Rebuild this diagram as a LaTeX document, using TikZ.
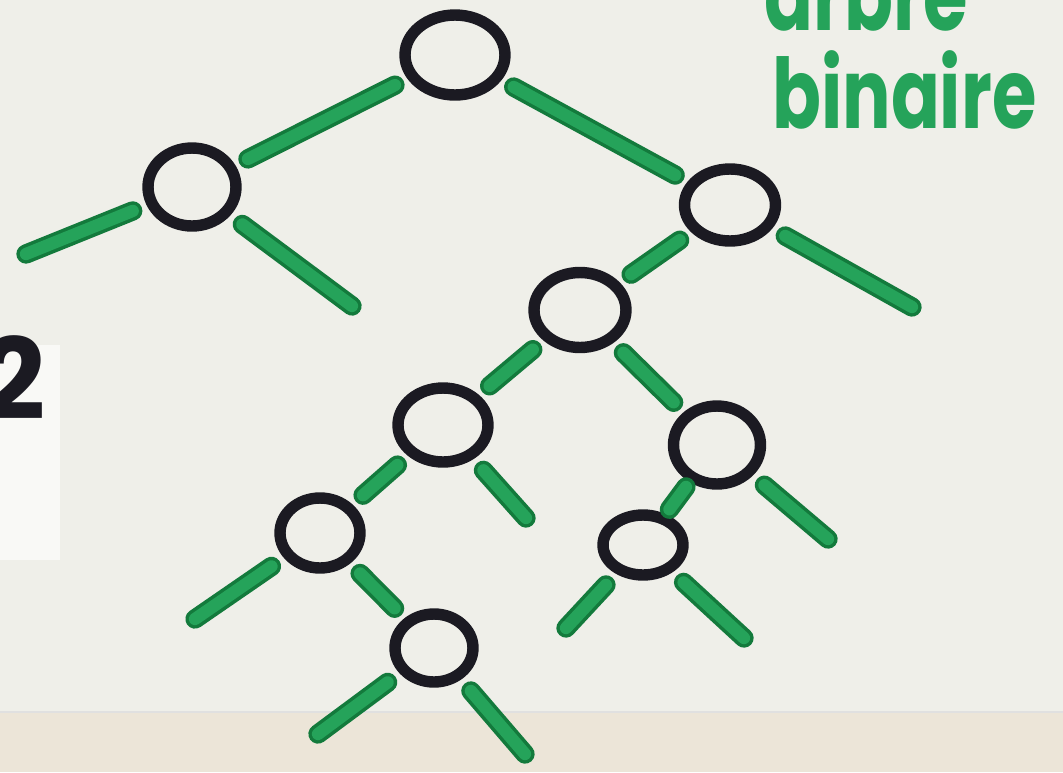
\documentclass[tikz,border=0pt]{standalone}
\usepackage{fontspec}
\usetikzlibrary{shapes.geometric}
\newfontfamily\mano{Poppins}
\definecolor{fondo}{HTML}{EFEFE9}
\definecolor{sabbia}{HTML}{ECE5D8}
\definecolor{verde}{HTML}{25A35A}
\definecolor{verdescuro}{HTML}{137A3C}
\definecolor{inchiostro}{HTML}{1B1A22}

\tikzset{
  noeud/.style={ellipse, draw=inchiostro, line width=6.5pt, inner sep=0pt},
  trait/.style={draw=verdescuro, line width=2pt, double=verde,
    double distance=7pt, line cap=round},
  branche/.style={trait, shorten <=0.28cm, shorten >=0.28cm},
  moignon/.style={trait, shorten <=0.3cm}
}

\begin{document}
\begin{tikzpicture}[x=0.02cm, y=-0.02cm]
  \useasboundingbox (0,0) rectangle (1063,772);
  \clip (0,0) rectangle (1063,772);
  % Fond
  \fill[fondo] (0,0) rectangle (1063,772);
  \fill[sabbia] (0,712) rectangle (1063,772);
  \draw[black!12, line width=1pt] (0,712) -- (1063,712);
  \fill[white!60!fondo] (0,345) rectangle (60,560);
  \node[font=\mano\bfseries\fontsize{64}{64}\selectfont, text=inchiostro,
    anchor=south east, inner sep=0pt] (deux) at (46,420) {2};

  % Titre
  \node[anchor=base west, inner sep=0pt, text=verde, yscale=1.35,
    font=\mano\bfseries\fontsize{41}{41}\selectfont] (arbre) at (764,30) {arbre};
  \node[anchor=base west, inner sep=0pt, text=verde, yscale=1.35,
    font=\mano\bfseries\fontsize{41}{41}\selectfont] (binaire) at (772,128) {binaire};

  % Noeuds
  \node[noeud, minimum width=2cm, minimum height=1.6cm] (racine) at (455,55) {};
  \node[noeud, minimum width=1.76cm, minimum height=1.56cm] (g) at (192,187) {};
  \node[noeud, minimum width=1.82cm, minimum height=1.44cm] (d) at (730,205) {};
  \node[noeud, minimum width=1.84cm, minimum height=1.5cm] (dg) at (580,310) {};
  \node[noeud, minimum width=1.8cm, minimum height=1.48cm] (dgg) at (443,425) {};
  \node[noeud, minimum width=1.74cm, minimum height=1.56cm] (dgd) at (717,445) {};
  \node[noeud, minimum width=1.6cm, minimum height=1.4cm] (dggg) at (320,533) {};
  \node[noeud, minimum width=1.6cm, minimum height=1.2cm] (dgdg) at (643,545) {};
  \node[noeud, minimum width=1.56cm, minimum height=1.36cm] (dgggd) at (434,648) {};

  % Extremites libres
  \coordinate (g1) at (26,254);
  \coordinate (g2) at (352,306);
  \coordinate (d2) at (912,307);
  \coordinate (dgg2) at (526,518);
  \coordinate (dgd2) at (828,539);
  \coordinate (dggg1) at (195,619);
  \coordinate (dgdg1) at (566,628);
  \coordinate (dgdg2) at (744,638);
  \coordinate (dgggd1) at (318,734);
  \coordinate (dgggd2) at (525,754);

  % Branches
  \draw[branche] (racine) -- (g);
  \draw[branche] (racine) -- (d);
  \draw[branche] (d) -- (dg);
  \draw[branche] (dg) -- (dgg);
  \draw[branche] (dg) -- (dgd);
  \draw[branche] (dgg) -- (dggg);
  \draw[trait, shorten <=0.12cm, shorten >=0.12cm] (dgd) -- (dgdg);
  \draw[branche] (dggg) -- (dgggd);

  \draw[moignon] (g) -- (g1);
  \draw[moignon] (g) -- (g2);
  \draw[moignon] (d) -- (d2);
  \draw[moignon] (dgg) -- (dgg2);
  \draw[moignon] (dgd) -- (dgd2);
  \draw[moignon] (dggg) -- (dggg1);
  \draw[moignon] (dgdg) -- (dgdg1);
  \draw[moignon] (dgdg) -- (dgdg2);
  \draw[moignon] (dgggd) -- (dgggd1);
  \draw[moignon] (dgggd) -- (dgggd2);
\end{tikzpicture}
\end{document}
